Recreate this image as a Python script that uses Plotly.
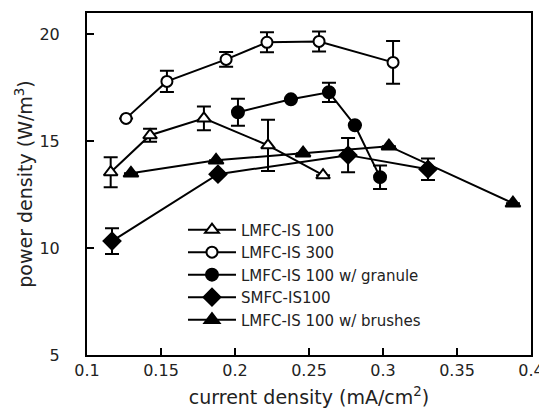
import plotly.graph_objects as go

# LMFC-IS 100 (open triangles)
x_is100 = [0.116, 0.1426, 0.179, 0.2223, 0.2595]
y_is100 = [13.55, 15.28, 16.07, 14.81, 13.41]
e_is100 = [0.7, 0.3, 0.55, 1.2, None]

# LMFC-IS 300 (open circles)
x_is300 = [0.1264, 0.154, 0.194, 0.2216, 0.2568, 0.3068]
y_is300 = [16.07, 17.80, 18.83, 19.63, 19.67, 18.69]
e_is300 = [None, 0.5, 0.35, 0.47, 0.47, 1.0]

# LMFC-IS 100 w/ granule (filled circles)
x_gran = [0.202, 0.2378, 0.2635, 0.281, 0.298]
y_gran = [16.36, 16.96, 17.29, 15.75, 13.32]
e_gran = [0.63, None, 0.45, None, 0.55]

# SMFC-IS100 (filled diamonds)
x_smfc = [0.1169, 0.1885, 0.2764, 0.3304]
y_smfc = [10.33, 13.46, 14.35, 13.69]
e_smfc = [0.6, None, 0.8, 0.5]

# LMFC-IS 100 w/ brushes (filled triangles)
x_brush = [0.1297, 0.1872, 0.246, 0.304, 0.3878]
y_brush = [13.50, 14.11, 14.44, 14.77, 12.10]
e_brush = [None, None, None, None, None]

x_ticks = [0.1, 0.15, 0.2, 0.25, 0.3, 0.35, 0.4]
x_ticklabels = ["0.1", "0.15", "0.2", "0.25", "0.3", "0.35", "0.4"]
y_ticks = [5, 10, 15, 20]

series = [
    ("LMFC-IS 100", x_is100, y_is100, e_is100, "triangle-up-open", 12),
    ("LMFC-IS 300", x_is300, y_is300, e_is300, "circle-open", 11),
    ("LMFC-IS 100 w/ granule", x_gran, y_gran, e_gran, "circle", 12),
    ("SMFC-IS100", x_smfc, y_smfc, e_smfc, "diamond", 13),
    ("LMFC-IS 100 w/ brushes", x_brush, y_brush, e_brush, "triangle-up", 13),
]

fig = go.Figure()
for name, xs, ys, es, sym, sz in series:
    open_ = sym.endswith("-open")
    fig.add_trace(go.Scatter(
        x=xs, y=ys, name=name, mode="lines+markers",
        line=dict(color="black", width=2),
        marker=dict(symbol=sym.replace("-open", ""), size=sz,
                    color="white" if open_ else "black",
                    line=dict(color="black", width=2)),
        error_y=dict(type="data", array=es, visible=True, color="black",
                     thickness=2, width=7),
    ))

font = "DejaVu Sans"
# page body adds an 8px margin, so the figure is sized to fit inside 547x414
fig.update_layout(
    width=539, height=406,
    margin=dict(l=79, r=16, t=5, b=59),
    paper_bgcolor="white", plot_bgcolor="white",
    font=dict(family=font, size=16, color="#222"),
    showlegend=True,
    legend=dict(x=0.2162, y=0.414, xanchor="left", yanchor="top",
                bgcolor="rgba(0,0,0,0)", font=dict(size=15),
                tracegroupgap=0, itemwidth=48),
    xaxis=dict(range=[0.1, 0.4], tickvals=x_ticks, ticktext=x_ticklabels,
               ticks="inside", ticklen=7, tickwidth=1.5, tickcolor="black",
               ticklabeloverflow="allow",
               showline=True, linecolor="black", linewidth=2, mirror=True,
               showgrid=False, zeroline=False, automargin=False,
               title=dict(text="current density (mA/cm<sup>2</sup>)", standoff=11,
                          font=dict(size=19))),
    yaxis=dict(range=[5, 21], tickvals=y_ticks,
               ticks="inside", ticklen=7, tickwidth=1.5, tickcolor="black",
               ticklabeloverflow="allow",
               showline=True, linecolor="black", linewidth=2, mirror=True,
               showgrid=False, zeroline=False, ticklabelstandoff=22,
               automargin=False,
               title=dict(text="power density (W/m<sup>3</sup>)", standoff=2,
                          font=dict(size=19))),
)

fig.write_html("out.html")
